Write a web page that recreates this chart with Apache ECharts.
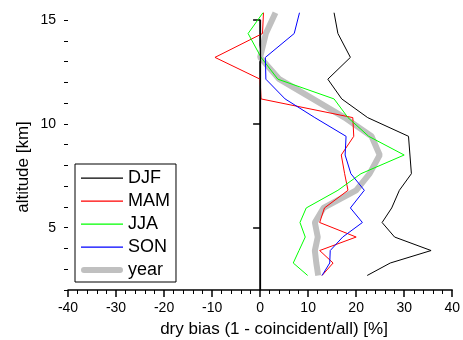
<!DOCTYPE html>
<html>
<head>
<meta charset="utf-8">
<script src="https://cdn.jsdelivr.net/npm/echarts@6/dist/echarts.min.js"></script>
<style>
html, body { margin: 0; padding: 0; background: #fff; }
#chart { width: 463px; height: 340px; }
</style>
</head>
<body>
<div id="chart"></div>
<script>
// altitude levels (km) shared by all profiles
var altitude = [15.35, 14.35, 13.2, 12.15, 11.2, 10.3, 9.4, 8.5, 7.6, 6.8, 5.95, 5.25, 4.55, 3.9, 3.3, 2.7];
// dry bias (%) per season
var djf = [15.4, 16.2, 18.8, 14.1, 17.0, 22.4, 30.9, 31.2, 31.5, 29.0, 27.4, 25.4, 28.0, 35.6, 27.1, 22.3];
var mam = [0.7, 0.5, -9.4, 0.0, 0.2, 19.3, 19.5, 16.9, 17.6, 18.3, 13.4, 12.4, 20.0, 12.4, 15.2, 12.9];
var jja = [0.6, -2.5, 0.2, 3.7, 15.4, 18.3, 22.6, 30.0, 21.0, 16.2, 9.6, 8.3, 9.4, 8.1, 6.9, 9.9];
var son = [8.2, 7.1, 1.1, 1.2, 5.2, 11.4, 17.9, 17.7, 18.9, 21.7, 18.8, 21.3, 17.2, 14.6, 14.5, 12.9];
var year = [3.2, 1.2, 0.0, 4.0, 11.0, 17.6, 23.2, 24.9, 22.8, 20.0, 13.2, 11.4, 12.0, 11.4, 11.7, 12.1];

var seriesNames = [ 'DJF', 'MAM', 'JJA', 'SON', 'year' ];
var yMajor = [5, 10, 15];
var yMinor = [2, 3, 4, 5, 6, 7, 8, 9, 10, 11, 12, 13, 14, 15];

var font = 'Arial, "Liberation Sans", sans-serif';

// legend icons: a horizontal bar inside a 42x14 box (tiny corner points fix the box)
var thinIcon = 'path://M0,0h0.01v0.01h-0.01Z M0,6.4h42v1.3h-42Z M41.99,13.99h0.01v0.01h-0.01Z';
var thickIcon = 'path://M0,0h0.01v0.01h-0.01Z M3,4h36a3,3 0 0 1 0,6h-36a3,3 0 0 1 0,-6Z M41.99,13.99h0.01v0.01h-0.01Z';

function pairs(values) {
	return values.map(function(v, i) {
		return [v, altitude[i]];
	});
}

function profile(name, values, color, width) {
	return {
		name : name,
		type : 'line',
		data : pairs(values),
		symbol : 'none',
		clip : false,
		lineStyle : { color : color, width : width },
		itemStyle : { color : color },
		z : name === 'year' ? 1 : 2
	};
}

var myChart = echarts.init(document.getElementById('chart'));
var option = {
	animation : false,
	grid : { left : 68, right : 8, top : 20, bottom : 50 },
	legend : {
		orient : 'vertical',
		left : 75,
		top : 164,
		data : seriesNames.map(function(n) {
			return { name : n, icon : n === 'year' ? thickIcon : thinIcon };
		}),
		borderColor : '#000',
		borderWidth : 1,
		padding : [ 5, 6, 3, 6 ],
		itemWidth : 42,
		itemHeight : 14,
		itemGap : 5,
		itemStyle : { borderWidth : 0 },
		textStyle : { fontFamily : font, fontSize : 18, color : '#000', lineHeight : 18 }
	},
	graphic : [ {
		type : 'text',
		x : 274,
		y : 329,
		style : { text : 'dry bias (1 - coincident/all) [%]', fontFamily : font, fontSize : 17, fill : '#000', textAlign : 'center', textVerticalAlign : 'middle' }
	}, {
		type : 'text',
		x : 23,
		y : 167,
		rotation : Math.PI / 2,
		style : { text : 'altitude [km]', fontFamily : font, fontSize : 17, fill : '#000', textAlign : 'center', textVerticalAlign : 'middle' }
	} ],
	xAxis : {
		type : 'value',
		min : -40,
		max : 40,
		interval : 10,
		axisLine : { lineStyle : { color : '#000', width : 1.5 } },
		axisTick : { length : 7, lineStyle : { color : '#000', width : 1.5 } },
		minorTick : { show : true, splitNumber : 5, length : 4, lineStyle : { color : '#000', width : 1 } },
		axisLabel : { fontFamily : font, fontSize : 14, color : '#000', margin : 11 },
		splitLine : { show : false }
	},
	yAxis : [ {
		type : 'value',
		min : 2,
		max : 15,
		axisLine : { show : true, lineStyle : { color : '#000', width : 1.5 } },
		axisTick : { show : true, length : 7, customValues : yMajor, lineStyle : { color : '#000', width : 1.5 } },
		axisLabel : { fontFamily : font, fontSize : 14, color : '#000', margin : 12, customValues : yMajor },
		splitLine : { show : false }
	}, {
		type : 'value',
		position : 'left',
		min : 2,
		max : 15,
		axisLine : { show : false },
		axisTick : { show : true, length : 4, customValues : yMinor, lineStyle : { color : '#000', width : 1 } },
		axisLabel : { show : false },
		splitLine : { show : false }
	} ],
	series : [
		profile('year', year, '#c0c0c0', 6),
		profile('DJF', djf, '#000000', 1),
		profile('MAM', mam, '#ff0000', 1),
		profile('JJA', jja, '#00ff00', 1),
		profile('SON', son, '#0000ff', 1)
	]
};
// zero line
option.series[1].markLine = {
	silent : true,
	symbol : 'none',
	label : { show : false },
	lineStyle : { color : '#000', width : 1.2, type : 'solid' },
	data : [ [ { coord : [ 0, 2 ] }, { coord : [ 0, 15 ] } ] ]
};
myChart.setOption(option);
</script>
</body>
</html>
